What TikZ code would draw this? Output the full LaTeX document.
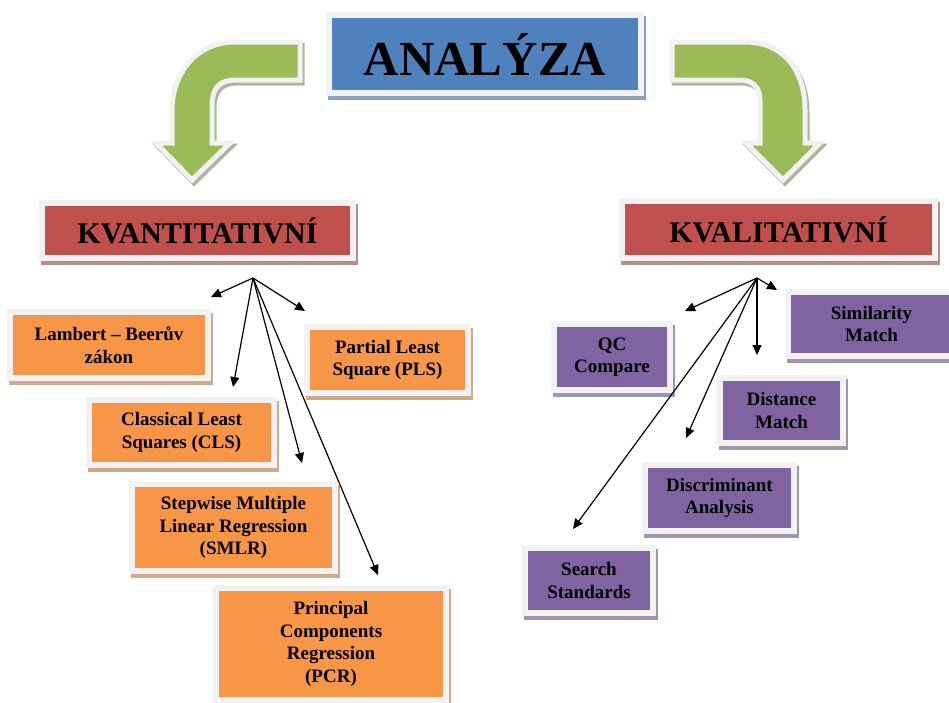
\documentclass[tikz,border=0pt]{standalone}
\usepackage{fontspec}
\setmainfont{Liberation Serif}
\usetikzlibrary{arrows.meta}
\definecolor{cblue}{HTML}{4F81BD}
\definecolor{cred}{HTML}{C0504D}
\definecolor{corange}{HTML}{F79646}
\definecolor{cpurple}{HTML}{8064A2}
\definecolor{cgreen}{HTML}{9BBB59}
\definecolor{framec}{HTML}{F2F2F2}
\tikzset{
  cbox/.style={fill=#1, draw=framec, line width=6pt, inner sep=0pt, align=center, text=black,
    preaction={draw=#1!55!gray!75!white, fill=#1!55!gray!75!white, line width=6pt, transform canvas={shift={(1.5pt,-3.5pt)}}}},
  small/.style={font=\fontsize{19}{22.5}\selectfont\bfseries},
  mid/.style={font=\fontsize{30}{34}\selectfont\bfseries},
  big/.style={font=\fontsize{49}{55}\selectfont\bfseries},
  garrow/.style={fill=cgreen, draw=framec, line width=5pt, line join=miter,
    preaction={draw=cgreen!40!gray!70!white, line width=5pt, transform canvas={shift={(2pt,-3pt)}}}},
  fan/.style={draw=black, line width=1.2pt, -{Triangle[length=10pt,width=9pt]}},
}
\begin{document}
\begin{tikzpicture}[x=1pt,y=-1pt]
\useasboundingbox (0,0) rectangle (949,702);
% green arrows
\path[garrow] (300,42) -- (235,42) .. controls (195,42) and (172,75) .. (172,110)
  -- (172,143) -- (156,143) -- (192,180) -- (230,143) -- (212,143) -- (212,105)
  .. controls (212,88) and (220,80) .. (235,80) -- (300,80) -- cycle;
\path[garrow] (672,42) -- (745,42) .. controls (785,42) and (805,72) .. (805,110)
  -- (805,143) -- (820,143) -- (783,180) -- (746,143) -- (760,143) -- (760,100)
  .. controls (760,87) and (752,80) .. (740,80) -- (672,80) -- cycle;
% header boxes
\node[cbox=cblue, big, minimum width=312pt, minimum height=78pt] (analyza) at (485,54) {ANALÝZA};
\node[cbox=cred, mid, minimum width=311pt, minimum height=55pt] (kvant) at (197.5,230.5) {KVANTITATIVNÍ};
\node[cbox=cred, mid, minimum width=313pt, minimum height=57pt] (kval) at (778.5,229.5) {KVALITATIVNÍ};
% quantitative methods
\node[cbox=corange, small, minimum width=198pt, minimum height=66pt] (lambert) at (109,345) {Lambert – Beerův\\zákon};
\node[cbox=corange, small, minimum width=161pt, minimum height=66pt] (pls) at (387.5,360) {Partial Least\\Square (PLS)};
\node[cbox=corange, small, minimum width=185pt, minimum height=65pt] (cls) at (181.5,432.5) {Classical Least\\Squares (CLS)};
\node[cbox=corange, small, minimum width=203pt, minimum height=87pt] (smlr) at (233.5,527.5) {Stepwise Multiple\\Linear Regression\\(SMLR)};
\node[cbox=corange, small, minimum width=230pt, minimum height=112pt] (pcr) at (331,644) {Principal\\Components\\Regression\\(PCR)};
% qualitative methods
\node[cbox=cpurple, small, minimum width=116pt, minimum height=66pt] (qc) at (612,357) {QC\\Compare};
\node[cbox=cpurple, small, minimum width=167pt, minimum height=64pt] (sim) at (871.5,324) {Similarity\\Match};
\node[cbox=cpurple, small, minimum width=123pt, minimum height=65pt] (dist) at (781.5,410.5) {Distance\\Match};
\node[cbox=cpurple, small, minimum width=149pt, minimum height=66pt] (disc) at (719.5,498) {Discriminant\\Analysis};
\node[cbox=cpurple, small, minimum width=128pt, minimum height=65pt] (search) at (589,580.5) {Search\\Standards};
% fan arrows left
\coordinate (L0) at (253,278);
\coordinate (La) at (211,297);
\coordinate (Lb) at (305,311);
\coordinate (Lc) at (233,387);
\coordinate (Ld) at (302,463);
\coordinate (Le) at (378,575);
\foreach \t in {La,Lb,Lc,Ld,Le} \draw[fan] (L0) -- (\t);
% fan arrows right
\coordinate (R0) at (757,278);
\coordinate (Ra) at (685,311);
\coordinate (Rb) at (777,290);
\coordinate (Rc) at (757,355);
\coordinate (Rd) at (686,438);
\coordinate (Re) at (573,529);
\foreach \t in {Ra,Rb,Rc,Rd,Re} \draw[fan] (R0) -- (\t);
\end{tikzpicture}
\end{document}
